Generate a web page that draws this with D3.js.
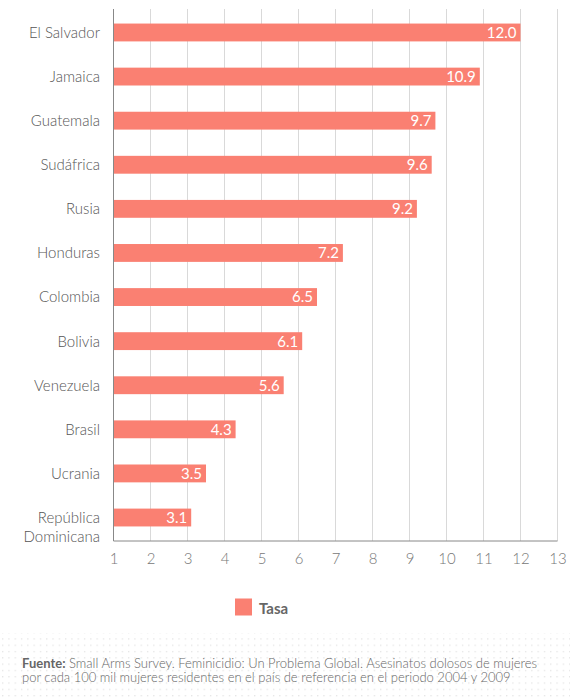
<!DOCTYPE html>
<html>
<head>
<meta charset="utf-8">
<script src="https://cdn.jsdelivr.net/npm/d3@7/dist/d3.min.js"></script>
<style>
  html, body { margin: 0; padding: 0; background: #fff; }
  svg { display: block; font-family: Lato, "Open Sans", sans-serif; font-weight: 300; }
</style>
</head>
<body>
<svg id="chart" width="570" height="700"></svg>
<script>
const categories = ["El Salvador", "Jamaica", "Guatemala", "Sudáfrica", "Rusia", "Honduras",
  "Colombia", "Bolivia", "Venezuela", "Brasil", "Ucrania", "República Dominicana"];
const values = [12.0, 10.9, 9.7, 9.6, 9.2, 7.2, 6.5, 6.1, 5.6, 4.3, 3.5, 3.1];
const xTicks = [1, 2, 3, 4, 5, 6, 7, 8, 9, 10, 11, 12, 13];
const seriesName = "Tasa";
const sourceBold = "Fuente:";
const sourceLines = [
  " Small Arms Survey. Feminicidio: Un Problema Global. Asesinatos dolosos de mujeres",
  "por cada 100 mil mujeres residentes en el país de referencia en el periodo 2004 y 2009"
];

const svg = d3.select("#chart");
const W = 570, H = 700;
const plotTop = 9, plotH = 532;

const x = d3.scaleLinear().domain([1, 13]).range([113.5, 557.5]);
const y = d3.scaleBand().domain(categories).range([plotTop, plotTop + plotH]).paddingInner(0.595).paddingOuter(0.33);

const barColor = "#fa8072";

// gridlines
svg.append("g").selectAll("line").data(xTicks.filter(t => t !== 1)).join("line")
  .attr("x1", d => x(d)).attr("x2", d => x(d))
  .attr("y1", plotTop).attr("y2", plotTop + plotH)
  .attr("stroke", "#d9d9d9").attr("stroke-width", 1);

// bars
svg.append("g").selectAll("rect").data(categories).join("rect")
  .attr("x", x(1))
  .attr("y", d => y(d))
  .attr("width", (d, i) => x(values[i]) - x(1))
  .attr("height", y.bandwidth())
  .attr("fill", barColor);

// value labels
svg.append("g").selectAll("text").data(categories).join("text")
  .attr("x", (d, i) => x(values[i]) - 4)
  .attr("y", d => y(d) + y.bandwidth() / 2)
  .attr("dy", "0.36em")
  .attr("text-anchor", "end")
  .attr("fill", "#fff")
  .attr("font-size", 15)
  .attr("font-weight", 400)
  .text((d, i) => values[i].toFixed(1));

// y axis line
svg.append("line").attr("x1", x(1)).attr("x2", x(1)).attr("y1", plotTop).attr("y2", plotTop + plotH)
  .attr("stroke", "#888").attr("stroke-width", 1);

const xAxis = d3.axisBottom(x).tickValues(xTicks).tickSize(0).tickPadding(12).tickFormat(d3.format("d"));
const gx = svg.append("g").attr("transform", `translate(0,${plotTop + plotH})`).call(xAxis);
gx.select(".domain").attr("stroke", "#888").attr("d", `M${x(1)},0H${x(13)}`);
gx.selectAll("text").attr("font-size", 15).attr("fill", "#777")
  .attr("font-family", "Lato, sans-serif").attr("font-weight", 300);

// category labels
const yl = svg.append("g");
categories.forEach(c => {
  const cy = y(c) + y.bandwidth() / 2;
  const t = yl.append("text").attr("text-anchor", "end").attr("fill", "#555").attr("font-size", 15);
  if (c === "República Dominicana") {
    t.append("tspan").attr("x", 100).attr("y", cy + 5).text("República");
    t.append("tspan").attr("x", 100).attr("y", cy + 24).text("Dominicana");
  } else {
    t.attr("x", 100).attr("y", cy).attr("dy", "0.36em").text(c);
  }
});

// legend
svg.append("rect").attr("x", 235).attr("y", 598.5).attr("width", 17).attr("height", 17).attr("fill", barColor);
svg.append("text").attr("x", 259).attr("y", 613.5).attr("font-size", 15).attr("font-weight", "bold")
  .attr("fill", "#666").text(seriesName);

// footer dotted background
const defs = svg.append("defs");
const pat = defs.append("pattern").attr("id", "dots").attr("patternUnits", "userSpaceOnUse")
  .attr("width", 6.3).attr("height", 6.3).attr("x", 2).attr("y", 2);
pat.append("rect").attr("x", 0).attr("y", 0).attr("width", 1.3).attr("height", 1.3).attr("fill", "#e4e4e4");
svg.append("rect").attr("x", 0).attr("y", 633).attr("width", W).attr("height", H - 633).attr("fill", "url(#dots)");

const ft = svg.append("text").attr("font-size", 13).attr("fill", "#666");
const l1 = ft.append("tspan").attr("x", 22).attr("y", 667.5);
l1.append("tspan").attr("font-weight", "bold").attr("fill", "#666").text(sourceBold);
l1.append("tspan").text(sourceLines[0]);
ft.append("tspan").attr("x", 22).attr("y", 682).text(sourceLines[1]);
</script>
</body>
</html>
